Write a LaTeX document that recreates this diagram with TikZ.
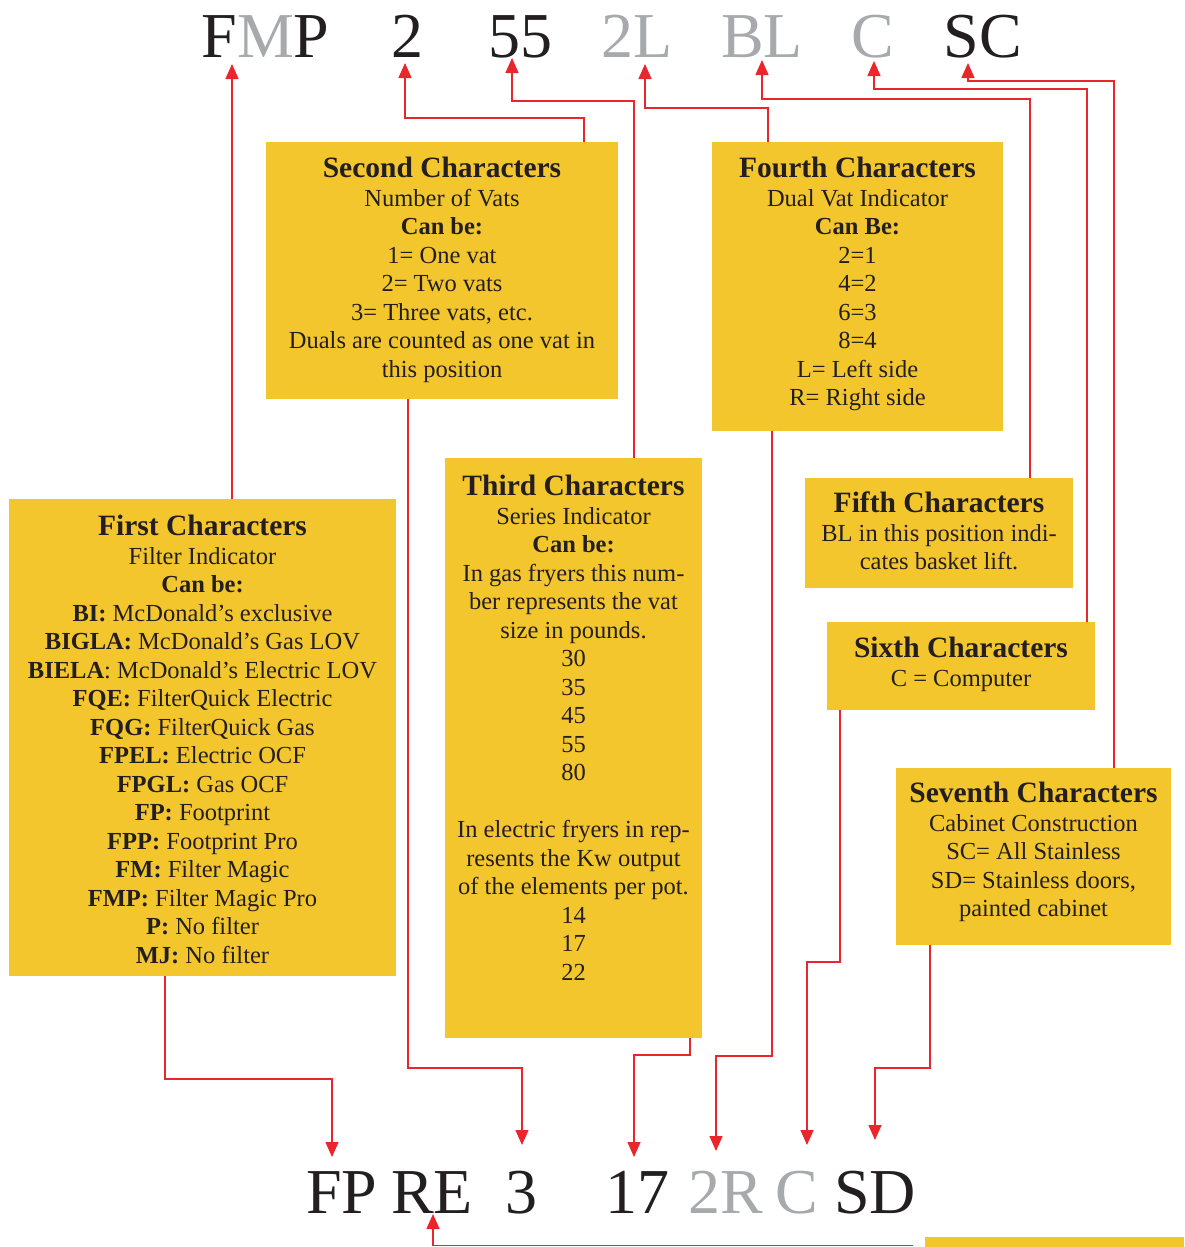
\documentclass[tikz,border=0pt]{standalone}
\usepackage{fontspec}
\setmainfont{Liberation Serif}
\usetikzlibrary{arrows.meta,calc}
\definecolor{boxyellow}{HTML}{F4C62E}
\definecolor{redline}{HTML}{E8262B}
\definecolor{ink}{HTML}{231F20}
\definecolor{graytok}{HTML}{A7A9AC}
\newcommand\boxhead[1]{{\fontsize{29.5}{28.5}\selectfont\bfseries #1}}
\begin{document}
\begin{tikzpicture}[x=1pt,y=-1pt,
  ybox/.style={fill=boxyellow, draw=none, inner sep=0pt, outer sep=0pt, anchor=north west, rectangle},
  boxtxt/.style={text=ink, align=center, inner sep=0pt, anchor=north, font=\fontsize{24.5}{28.5}\selectfont},
  tok/.style={inner sep=0pt, anchor=base, font=\fontsize{64}{64}\selectfont, text=ink},
  conn/.style={draw=redline, line width=1.5pt, -{Triangle[length=15pt,width=13pt]}},
]
\useasboundingbox (0,0) rectangle (1184,1247);

% top code
\node[tok] (t1) at (265.5,57) {F\textcolor{graytok}{M}P};
\node[tok] (t2) at (407,57) {2};
\node[tok] (t3) at (520,57) {55};
\node[tok, text=graytok] (t4) at (637,57) {2L};
\node[tok, text=graytok] (t5) at (762,57) {BL};
\node[tok, text=graytok] (t6) at (873,57) {C};
\node[tok] (t7) at (983,57) {SC};

% bottom code
\node[tok] (b1) at (342,1213) {FP};
\node[tok] (b2) at (432,1213) {RE};
\node[tok] (b3) at (521,1213) {3};
\node[tok] (b4) at (637,1213) {17};
\node[tok, text=graytok] (b5) at (726,1213) {2R};
\node[tok, text=graytok] (b6) at (797,1213) {C};
\node[tok] (b7) at (875,1213) {SD};

% boxes
\node[ybox, minimum width=352pt, minimum height=257pt] (second) at (266,142) {};
\node[ybox, minimum width=291pt, minimum height=289pt] (fourth) at (712,142) {};
\node[ybox, minimum width=257pt, minimum height=580pt] (third) at (445,458) {};
\node[ybox, minimum width=387pt, minimum height=477pt] (first) at (9,499) {};
\node[ybox, minimum width=268pt, minimum height=110pt] (fifth) at (805,478) {};
\node[ybox, minimum width=268pt, minimum height=88pt] (sixth) at (827,622) {};
\node[ybox, minimum width=275pt, minimum height=177pt] (seventh) at (896,768) {};
\node[ybox, minimum width=259pt, minimum height=10pt] (bar) at (925,1237) {};

% box texts
\node[boxtxt] (secondtxt) at (442,157) {\boxhead{Second Characters}\\
Number of Vats\\ \textbf{Can be:}\\ 1= One vat\\ 2= Two vats\\ 3= Three vats, etc.\\
Duals are counted as one vat in\\ this position};
\node[boxtxt] (fourthtxt) at (857.5,157) {\boxhead{Fourth Characters}\\
Dual Vat Indicator\\ \textbf{Can Be:}\\ 2=1\\ 4=2\\ 6=3\\ 8=4\\ L= Left side\\ R= Right side};
\node[boxtxt] (thirdtxt) at (573.5,475) {\boxhead{Third Characters}\\
Series Indicator\\ \textbf{Can be:}\\ In gas fryers this num-\\ ber represents the vat\\
size in pounds.\\ 30\\ 35\\ 45\\ 55\\ 80\\[28.5pt] In electric fryers in rep-\\
resents the Kw output\\ of the elements per pot.\\ 14\\ 17\\ 22};
\node[boxtxt] (firsttxt) at (202.5,515) {\boxhead{First Characters}\\
Filter Indicator\\ \textbf{Can be:}\\
\textbf{BI:} McDonald’s exclusive\\
\textbf{BIGLA:} McDonald’s Gas LOV\\
\textbf{BIELA}: McDonald’s Electric LOV\\
\textbf{FQE:} FilterQuick Electric\\
\textbf{FQG:} FilterQuick Gas\\
\textbf{FPEL:} Electric OCF\\
\textbf{FPGL:} Gas OCF\\
\textbf{FP:} Footprint\\
\textbf{FPP:} Footprint Pro\\
\textbf{FM:} Filter Magic\\
\textbf{FMP:} Filter Magic Pro\\
\textbf{P:} No filter\\
\textbf{MJ:} No filter};
\node[boxtxt] (fifthtxt) at (939,492) {\boxhead{Fifth Characters}\\
BL in this position indi-\\ cates basket lift.};
\node[boxtxt] (sixthtxt) at (961,637) {\boxhead{Sixth Characters}\\ C = Computer};
\node[boxtxt] (seventhtxt) at (1033.5,782) {\boxhead{Seventh Characters}\\
Cabinet Construction\\ SC= All Stainless\\ SD= Stainless doors,\\ painted cabinet};

% arrow tips
\coordinate (u1) at (232,64);
\coordinate (u2) at (405,63);
\coordinate (u3) at (512,58);
\coordinate (u4) at (645,64);
\coordinate (u5) at (762,60);
\coordinate (u6) at (874,61);
\coordinate (u7) at (968,63);
\coordinate (d1) at (332,1157);
\coordinate (d2) at (522,1145);
\coordinate (d3) at (634,1157);
\coordinate (d4) at (716,1151);
\coordinate (d5) at (807,1145);
\coordinate (d6) at (875,1140);
\coordinate (d7) at (433,1214);

% upper connectors
\draw[conn] ($(first.north west)+(223,0)$) -- (u1);
\draw[conn] ($(second.north west)+(318,0)$) -- ++(0,-24) -| (u2);
\draw[conn] ($(third.north west)+(189,0)$) -- ++(0,-357) -| (u3);
\draw[conn] ($(fourth.north west)+(56,0)$) -- ++(0,-34) -| (u4);
\draw[conn] ($(fifth.north west)+(225,0)$) -- ++(0,-379) -| (u5);
\draw[conn] ($(sixth.north west)+(260,0)$) -- ++(0,-533) -| (u6);
\draw[conn] ($(seventh.north west)+(218,0)$) -- ++(0,-687) -| (u7);

% lower connectors
\draw[conn] ($(first.south west)+(156,0)$) -- ++(0,103) -| (d1);
\draw[conn] ($(second.south west)+(142,0)$) -- ++(0,669) -| (d2);
\draw[conn] ($(third.south west)+(245,0)$) -- ++(0,17) -| (d3);
\draw[conn] ($(fourth.south west)+(60,0)$) -- ++(0,625) -| (d4);
\draw[conn] ($(sixth.south west)+(13,0)$) -- ++(0,252) -| (d5);
\draw[conn] ($(seventh.south west)+(34,0)$) -- ++(0,123) -| (d6);
\draw[conn] ($(bar.south west)+(-12,-1.5)$) -| (d7);
\end{tikzpicture}
\end{document}
